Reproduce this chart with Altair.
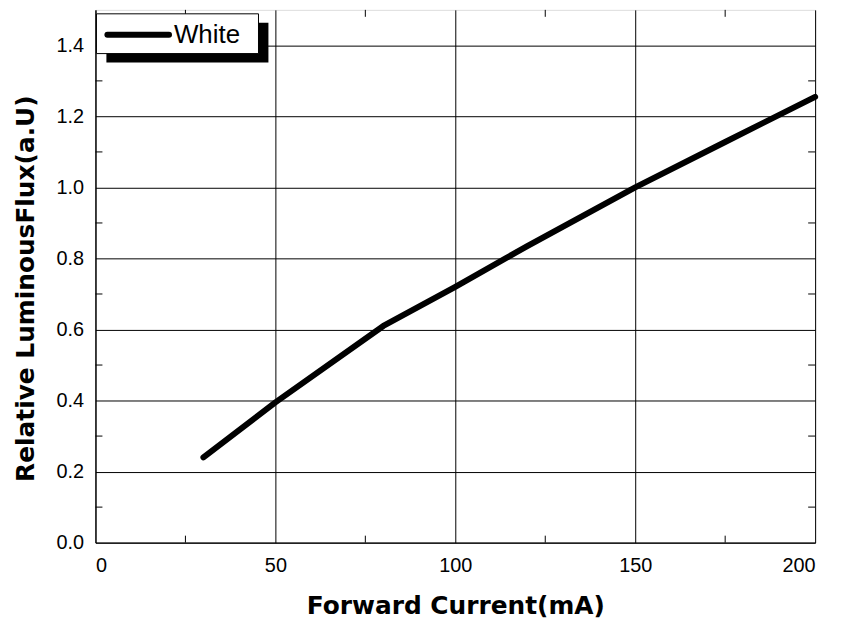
import altair as alt
import pandas as pd

# Data
current_ma = [30, 50, 80, 100, 120, 150, 175, 200]
rel_flux = [0.24, 0.395, 0.61, 0.72, 0.835, 1.0, 1.128, 1.255]
series_name = "White"

x_major = [0, 50, 100, 150, 200]
x_minor = [25, 75, 125, 175]
y_major = [0.0, 0.2, 0.4, 0.6, 0.8, 1.0, 1.2, 1.4]
y_minor = [0.1, 0.3, 0.5, 0.7, 0.9, 1.1, 1.3]

W, H = 724, 536
FONT = "Liberation Sans"
TFONT = "DejaVu Sans"

df = pd.DataFrame({"current": current_ma, "flux": rel_flux, "series": series_name})
xs = alt.Scale(domain=[0, 200], nice=False, zero=False)
ys = alt.Scale(domain=[0, 1.5], nice=False, zero=False)

base = alt.Chart(df)

line = base.mark_line(color="black", strokeWidth=6, strokeCap="round", strokeJoin="round").encode(
    x=alt.X("current:Q", scale=xs,
            axis=alt.Axis(values=x_major, title="Forward Current(mA)", grid=True,
                          gridColor="black", gridOpacity=1, gridWidth=1,
                          domainColor="black", tickColor="black", tickSize=0,
                          labelFont=FONT, labelFontSize=20, labelColor="black", labelPadding=13,
                          titleFont=TFONT, titleFontSize=25, titleFontWeight="bold",
                          titleColor="black", titlePadding=18)),
    y=alt.Y("flux:Q", scale=ys,
            axis=alt.Axis(values=y_major, format=".1f", title="Relative LuminousFlux(a.U)",
                          grid=True, gridColor="black", gridOpacity=1, gridWidth=1,
                          domainColor="black", tickColor="black", tickSize=0,
                          labelFont=FONT, labelFontSize=20, labelColor="black", labelPadding=12,
                          titleFont=TFONT, titleFontSize=25, titleFontWeight="bold",
                          titleColor="black", titlePadding=18, titleY=H / 2 + 12)),
)

xminor_df = pd.DataFrame({"x": x_minor})
yminor_df = pd.DataFrame({"y": y_minor})

xt_bottom = alt.Chart(xminor_df).mark_rule(color="black", strokeWidth=1).encode(
    x=alt.X("x:Q", scale=xs), y=alt.value(H), y2=alt.value(H - 7))
xt_top = alt.Chart(xminor_df).mark_rule(color="black", strokeWidth=1).encode(
    x=alt.X("x:Q", scale=xs), y=alt.value(0), y2=alt.value(7))
yt_left = alt.Chart(yminor_df).mark_rule(color="black", strokeWidth=1).encode(
    y=alt.Y("y:Q", scale=ys), x=alt.value(0), x2=alt.value(7))
yt_right = alt.Chart(yminor_df).mark_rule(color="black", strokeWidth=1).encode(
    y=alt.Y("y:Q", scale=ys), x=alt.value(W), x2=alt.value(W - 7))

leg_df = pd.DataFrame({"series": [series_name]})
leg = alt.Chart(leg_df)
shadow = leg.mark_rect(color="black").encode(
    x=alt.value(11), x2=alt.value(174), y=alt.value(13), y2=alt.value(53))
box = leg.mark_rect(fill="white", stroke="black", strokeWidth=1).encode(
    x=alt.value(1), x2=alt.value(164), y=alt.value(4), y2=alt.value(44))
sample = leg.mark_rule(color="black", strokeWidth=6, strokeCap="round").encode(
    x=alt.value(12), x2=alt.value(74), y=alt.value(25))
label = leg.mark_text(align="left", baseline="middle", font=FONT, fontSize=26, color="black").encode(
    x=alt.value(79), y=alt.value(25), text="series:N")

chart = alt.layer(xt_bottom, xt_top, yt_left, yt_right, line, shadow, box, sample, label).properties(
    width=W, height=H,
    autosize=alt.AutoSizeParams(type="none"),
    padding={"left": 88, "top": 0, "right": 20, "bottom": 80},
).configure_view(stroke="black", strokeWidth=1).configure(background="white")

chart.save("out.html", embed_options={"renderer": "svg", "actions": False})
